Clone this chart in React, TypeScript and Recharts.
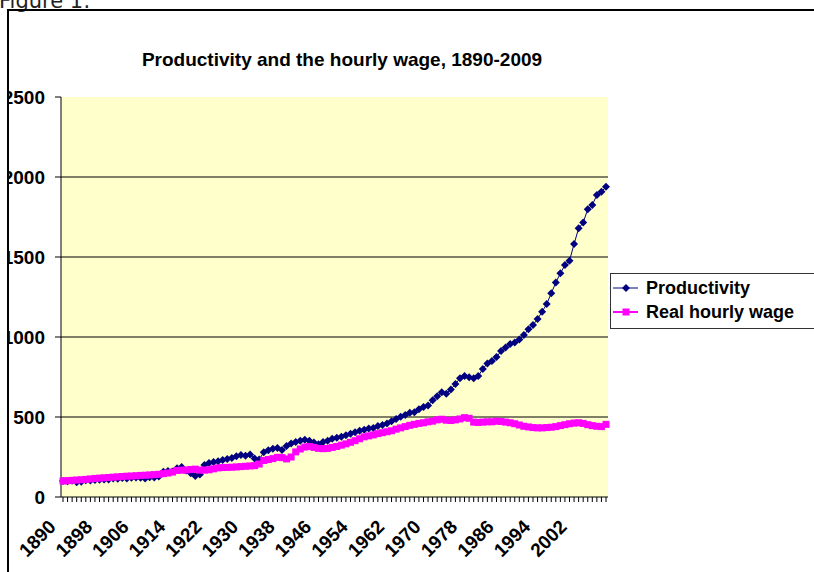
import React from "react";
import { LineChart, Line, XAxis, YAxis, CartesianGrid, ReferenceLine } from "recharts";

const FONT = '"Liberation Sans", Arial, sans-serif';

// 1890 .. 2009, one category per year
const years = Array.from({ length: 120 }, (_, i) => String(1890 + i));

const productivity = [
  100, 98, 102, 92, 96, 105, 103, 106, 108, 110,
  109, 116, 114, 118, 116, 120, 122, 121, 115, 124,
  122, 128, 158, 162, 160, 180, 188, 165, 148, 132,
  140, 200, 212, 218, 224, 232, 238, 244, 254, 262,
  258, 266, 240, 234, 280, 292, 302, 306, 294, 318,
  334, 344, 352, 358, 352, 340, 330, 344, 352, 364,
  370, 376, 386, 396, 404, 414, 420, 428, 432, 444,
  450, 460, 474, 488, 502, 512, 526, 530, 548, 562,
  572, 604, 630, 655, 646, 672, 706, 742, 756, 748,
  742, 756, 800, 835, 850, 875, 912, 935, 956, 965,
  985, 1012, 1048, 1075, 1112, 1158, 1206, 1273, 1340, 1398,
  1450, 1477, 1581, 1679, 1715, 1798, 1825, 1888, 1908, 1939,
];

const realWage = [
  100, 102, 104, 106, 108, 110, 113, 116, 118, 120,
  122, 124, 126, 128, 130, 131, 133, 135, 136, 138,
  140, 142, 146, 150, 156, 166, 168, 168, 172, 174,
  168, 168, 170, 176, 182, 184, 185, 186, 188, 190,
  192, 194, 196, 206, 228, 234, 240, 248, 246, 238,
  250, 282, 300, 312, 316, 310, 304, 302, 304, 310,
  316, 324, 332, 342, 352, 364, 376, 382, 388, 396,
  402, 408, 414, 424, 432, 440, 448, 454, 460, 464,
  470, 474, 482, 486, 480, 478, 482, 488, 496, 492,
  468, 466, 468, 470, 470, 474, 472, 468, 464, 458,
  450, 442, 438, 434, 432, 432, 434, 436, 440, 446,
  452, 458, 462, 464, 460, 452, 446, 442, 440, 454,
];

const yTicks = [0, 500, 1000, 1500, 2000, 2500];
const gridValues = [500, 1000, 1500, 2000];

const seriesNames = ["Productivity", "Real hourly wage"];
const PROD_COLOR = "#000080";
const WAGE_COLOR = "#FF00FF";

const data = years.map((year, i) => ({
  year,
  productivity: productivity[i],
  wage: realWage[i],
}));

const diamond = (props: any) => {
  const { cx, cy, index } = props;
  return (
    <path
      key={`d-${index}`}
      d={`M${cx},${cy - 4}L${cx + 4},${cy}L${cx},${cy + 4}L${cx - 4},${cy}Z`}
      fill={PROD_COLOR}
    />
  );
};

const square = (props: any) => {
  const { cx, cy, index } = props;
  return <rect key={`s-${index}`} x={cx - 3.5} y={cy - 3.5} width={7} height={7} fill={WAGE_COLOR} />;
};

const YearTick = (props: any) => {
  const { x, y, payload, index } = props;
  if (index % 8 !== 0) return <g />;
  const ax = x - 6;
  const ay = y + 26;
  return (
    <text
      x={ax}
      y={ay}
      transform={`rotate(-45 ${ax} ${ay})`}
      textAnchor="end"
      fontFamily={FONT}
      fontSize={19}
      fontWeight="bold"
      fill="#000"
    >
      {payload.value}
    </text>
  );
};

const App: React.FC = () => {
  return (
    <div style={{ position: "absolute", left: 0, top: 0, width: 814, height: 572, background: "#fff", overflow: "hidden" }}>
      <LineChart
        width={814}
        height={572}
        data={data}
        margin={{ top: 97, right: 206, left: 0, bottom: 0 }}
      >
        <CartesianGrid horizontal={false} vertical={false} fill="#FFFFCC" />
        {gridValues.map((v) => (
          <ReferenceLine key={v} y={v} stroke="#000" strokeWidth={1} />
        ))}
        <XAxis
          dataKey="year"
          height={75}
          interval={0}
          padding={{ left: 2, right: 2 }}
          axisLine={{ stroke: "#000" }}
          tickLine={{ stroke: "#000" }}
          tickSize={5}
          tickMargin={0}
          tick={<YearTick />}
        />
        <XAxis
          xAxisId="top"
          dataKey="year"
          orientation="top"
          height={0}
          tick={false}
          tickLine={false}
          axisLine={{ stroke: "#808080" }}
        />
        <YAxis
          width={61}
          domain={[0, 2500]}
          ticks={yTicks}
          interval={0}
          axisLine={{ stroke: "#000" }}
          tickLine={{ stroke: "#000" }}
          tickSize={6}
          tickMargin={10}
          tick={{ fontSize: 19, fontWeight: "bold", fill: "#000", fontFamily: FONT }}
        />
        <YAxis
          yAxisId="right"
          orientation="right"
          width={0}
          tick={false}
          tickLine={false}
          axisLine={{ stroke: "#808080" }}
        />
        <Line
          dataKey="productivity"
          name={seriesNames[0]}
          stroke={PROD_COLOR}
          strokeWidth={1}
          dot={diamond}
          isAnimationActive={false}
        />
        <Line
          dataKey="wage"
          name={seriesNames[1]}
          stroke={WAGE_COLOR}
          strokeWidth={2}
          dot={square}
          isAnimationActive={false}
        />
      </LineChart>

      {/* title */}
      <div
        style={{
          position: "absolute",
          left: 0,
          width: 684,
          top: 51,
          textAlign: "center",
          fontFamily: FONT,
          fontWeight: "bold",
          fontSize: 19,
          lineHeight: "17px",
          color: "#000",
          whiteSpace: "nowrap",
        }}
      >
        Productivity and the hourly wage, 1890-2009
      </div>

      {/* legend */}
      <div
        style={{
          position: "absolute",
          left: 610,
          top: 273,
          width: 215,
          height: 54,
          border: "1px solid #333",
          background: "#fff",
          fontFamily: FONT,
          fontWeight: "bold",
          fontSize: 18,
          color: "#000",
        }}
      >
        {seriesNames.map((name, i) => (
          <div
            key={name}
            style={{ position: "absolute", left: 0, top: 3 + i * 24, height: 22, display: "flex", alignItems: "center", whiteSpace: "nowrap" }}
          >
            <svg width={32} height={22} style={{ marginLeft: 1 }}>
              <line x1={1} y1={11} x2={26} y2={11} stroke={i === 0 ? PROD_COLOR : WAGE_COLOR} strokeWidth={i === 0 ? 1 : 2} />
              {i === 0 ? (
                <path d="M14,7L18,11L14,15L10,11Z" fill={PROD_COLOR} />
              ) : (
                <rect x={10.5} y={7.5} width={7} height={7} fill={WAGE_COLOR} />
              )}
            </svg>
            <span style={{ marginLeft: 2 }}>{name}</span>
          </div>
        ))}
      </div>

      {/* caption above the figure box */}
      <div
        style={{
          position: "absolute",
          left: -1,
          top: -9,
          fontFamily: '"DejaVu Sans", sans-serif',
          fontSize: 21,
          lineHeight: "21px",
          color: "#222",
          whiteSpace: "nowrap",
        }}
      >
        Figure 1:
      </div>

      {/* figure frame */}
      <div style={{ position: "absolute", left: 0, top: 10, width: 7, height: 562, background: "#fff" }} />
      <div style={{ position: "absolute", left: 7, top: 9, width: 807, height: 563, borderLeft: "2px solid #000", borderTop: "2px solid #000" }} />
    </div>
  );
};

export default App;
